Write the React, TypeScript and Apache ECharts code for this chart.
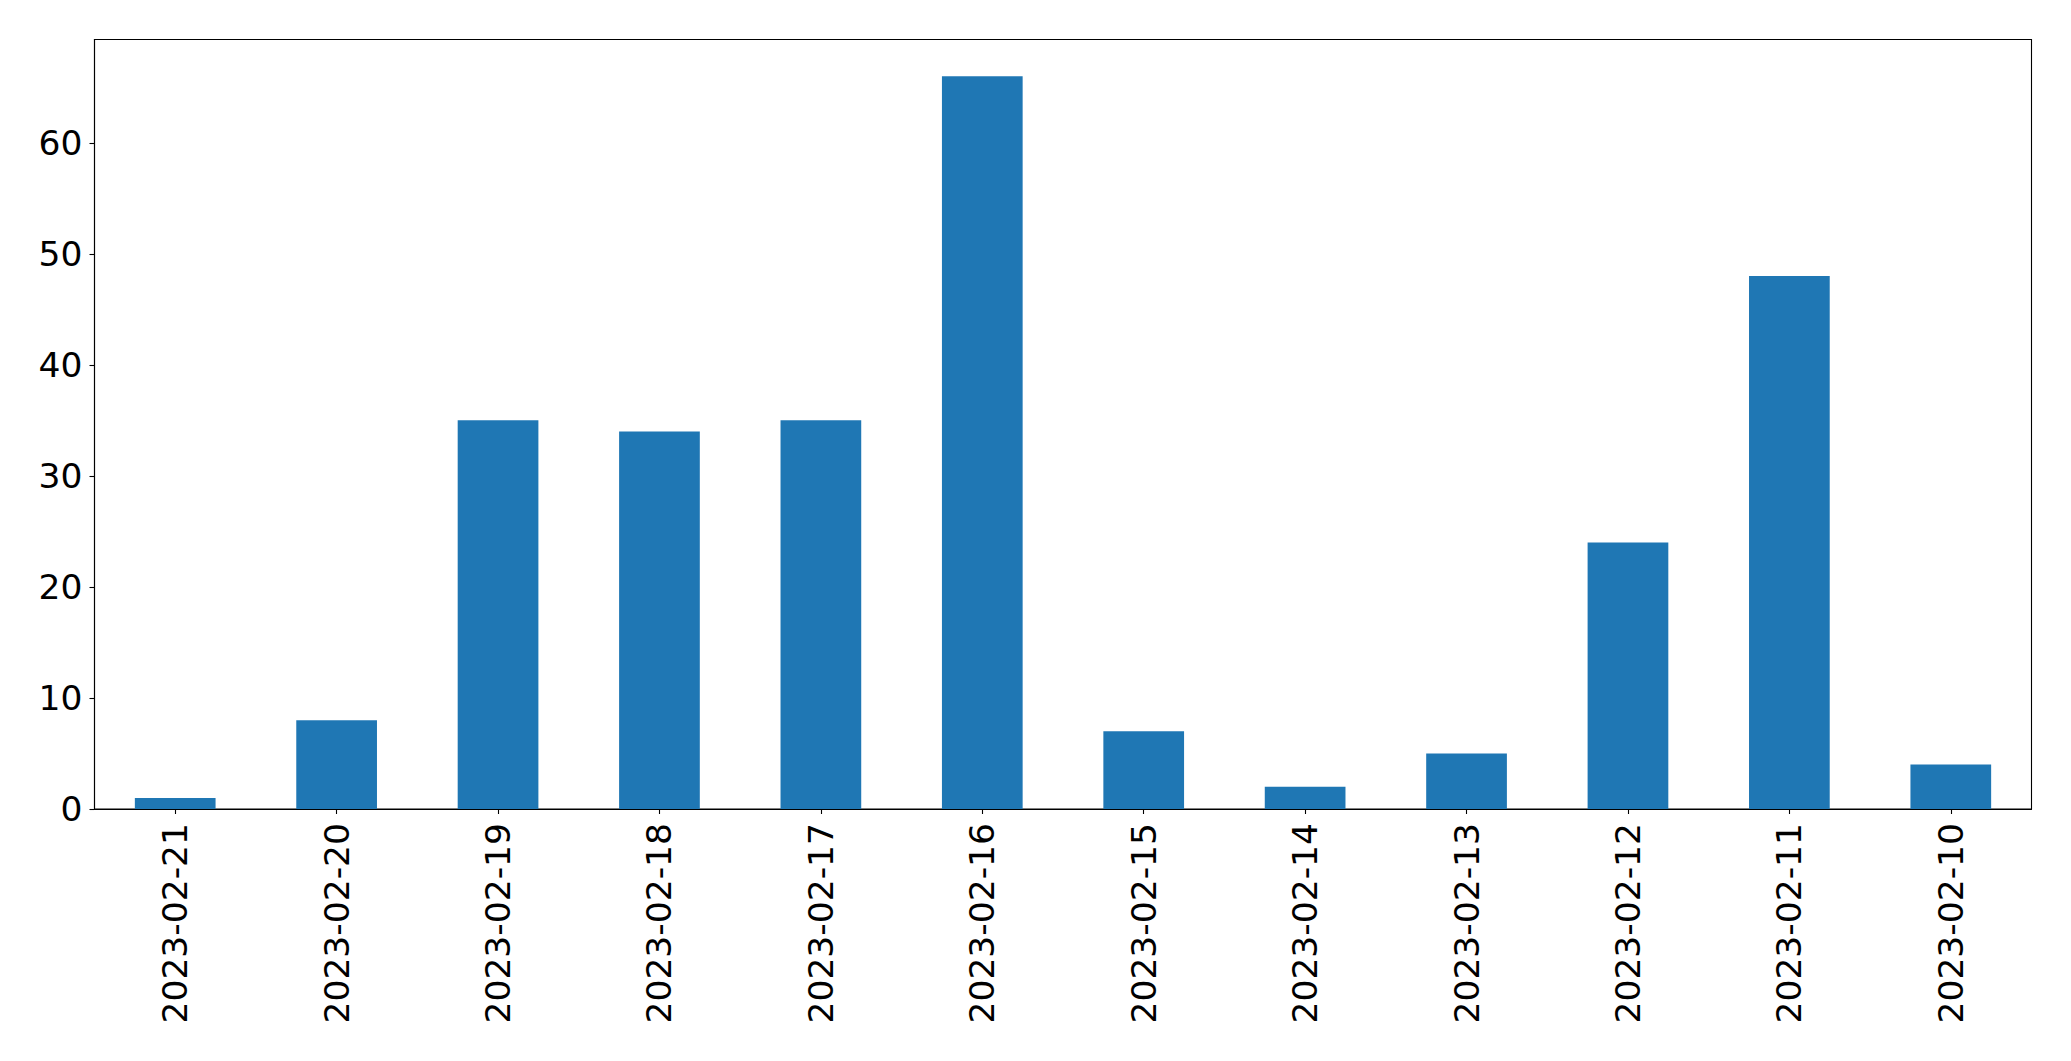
import React, { useEffect, useRef } from "react";
import * as echarts from "echarts";

const categories = [
  "2023-02-21", "2023-02-20", "2023-02-19", "2023-02-18", "2023-02-17", "2023-02-16",
  "2023-02-15", "2023-02-14", "2023-02-13", "2023-02-12", "2023-02-11", "2023-02-10",
];
const values = [1, 8, 35, 34, 35, 66, 7, 2, 5, 24, 48, 4];
const yTicks = [0, 10, 20, 30, 40, 50, 60];
const yMax = 69.3;

export default function App() {
  const ref = useRef<HTMLDivElement>(null);
  useEffect(() => {
    if (!ref.current) return;
    const chart = echarts.init(ref.current, null, { renderer: "svg" });
    const font = "DejaVu Sans";
    chart.setOption({
      animation: false,
      backgroundColor: "#ffffff",
      grid: {
        left: 94.5,
        right: 39.5,
        top: 39.5,
        bottom: 252,
        show: true,
        borderColor: "#000",
        borderWidth: 1.1,
        backgroundColor: "transparent",
      },
      xAxis: {
        type: "category",
        data: categories,
        axisLine: { show: true, lineStyle: { color: "#000", width: 1.1 } },
        axisTick: { show: true, alignWithLabel: true, length: 5, lineStyle: { color: "#000", width: 1.1 } },
        axisLabel: {
          rotate: 90,
          fontSize: 34.5,
          fontFamily: font,
          color: "#000",
          margin: 14,
          interval: 0,
        },
        splitLine: { show: false },
      },
      yAxis: {
        type: "value",
        min: 0,
        max: yMax,
        interval: 10,
        axisLine: { show: true, lineStyle: { color: "#000", width: 1.1 } },
        axisTick: { show: true, length: 5, customValues: yTicks, lineStyle: { color: "#000", width: 1.1 } },
        axisLabel: {
          fontSize: 34.5,
          fontFamily: font,
          color: "#000",
          margin: 12,
          customValues: yTicks,
          formatter: (v: number) => (Math.abs(v % 10) < 1e-9 ? String(v) : ""),
        },
        splitLine: { show: false },
      },
      series: [
        {
          type: "bar",
          data: values,
          barWidth: "50%",
          itemStyle: { color: "#1f77b4" },
        },
      ],
    });
    return () => chart.dispose();
  }, []);
  return <div ref={ref} style={{ width: 2071, height: 1061, position: "absolute", left: 0, top: 0 }} />;
}
